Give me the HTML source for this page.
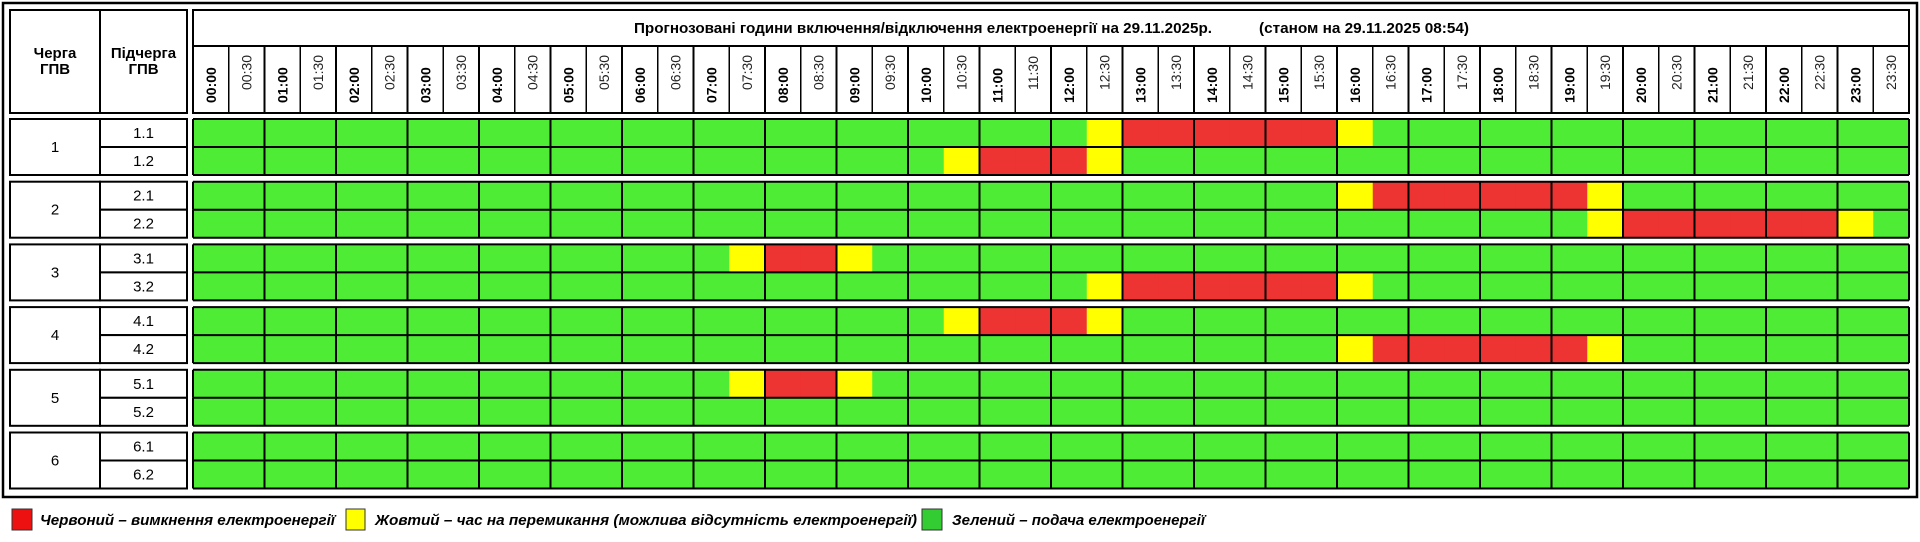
<!DOCTYPE html>
<html><head><meta charset="utf-8">
<style>
html,body{margin:0;padding:0;background:#fff;}
svg{display:block;font-family:"Liberation Sans",sans-serif;}
</style></head>
<body>
<svg id="chart" width="1920" height="542" viewBox="0 0 1920 542" xmlns="http://www.w3.org/2000/svg">
  <rect x="3" y="3" width="1914" height="494" fill="#fff" stroke="#000" stroke-width="2.5"/>
  <g id="header">
    <rect x="10" y="10" width="90" height="103" fill="#fff" stroke="#000" stroke-width="2"/>
    <rect x="100" y="10" width="87" height="103" fill="#fff" stroke="#000" stroke-width="2"/>
    <text x="55" y="58" font-size="15" font-weight="bold" text-anchor="middle">Черга</text>
    <text x="55" y="74" font-size="15" font-weight="bold" text-anchor="middle">ГПВ</text>
    <text x="143.5" y="58" font-size="15" font-weight="bold" text-anchor="middle">Підчерга</text>
    <text x="143.5" y="74" font-size="15" font-weight="bold" text-anchor="middle">ГПВ</text>
    <rect x="193" y="10" width="1716" height="103" fill="#fff" stroke="#000" stroke-width="2"/>
    <line x1="193" y1="46" x2="1909" y2="46" stroke="#000" stroke-width="2"/>
    <text x="634" y="33" font-size="15" font-weight="bold" textLength="578" lengthAdjust="spacingAndGlyphs">Прогнозовані години включення/відключення електроенергії на 29.11.2025р.</text>
    <text x="1259" y="33" font-size="15" font-weight="bold" textLength="210" lengthAdjust="spacingAndGlyphs">(станом на 29.11.2025 08:54)</text>
  </g>
  <g id="timeLabels"></g>
  <g id="groups"></g>
  <g id="legend">
    <rect x="12" y="509" width="20" height="21" fill="#ee1111" stroke="#333" stroke-width="1"/>
    <text x="40" y="525" font-size="15" font-weight="bold" font-style="italic" textLength="295" lengthAdjust="spacingAndGlyphs">Червоний – вимкнення електроенергії</text>
    <rect x="346" y="509" width="19" height="21" fill="#ffff00" stroke="#333" stroke-width="1"/>
    <text x="375" y="525" font-size="15" font-weight="bold" font-style="italic" textLength="542" lengthAdjust="spacingAndGlyphs">Жовтий – час на перемикання (можлива відсутність електроенергії)</text>
    <rect x="922" y="509" width="20" height="21" fill="#33cc33" stroke="#333" stroke-width="1"/>
    <text x="952" y="525" font-size="15" font-weight="bold" font-style="italic" textLength="253" lengthAdjust="spacingAndGlyphs">Зелений – подача електроенергії</text>
  </g>
</svg>
<script>
// ---- data ----
const queues = ["1","2","3","4","5","6"];
const subqueues = ["1.1","1.2","2.1","2.2","3.1","3.2","4.1","4.2","5.1","5.2","6.1","6.2"];
const timeSlots = ["00:00","00:30","01:00","01:30","02:00","02:30","03:00","03:30","04:00","04:30","05:00","05:30","06:00","06:30","07:00","07:30","08:00","08:30","09:00","09:30","10:00","10:30","11:00","11:30","12:00","12:30","13:00","13:30","14:00","14:30","15:00","15:30","16:00","16:30","17:00","17:30","18:00","18:30","19:00","19:30","20:00","20:30","21:00","21:30","22:00","22:30","23:00","23:30"];
// status codes per half-hour slot: g = on, y = switching, r = off
const status11 = "gggggggggggggggggggggggggyrrrrrrygggggggggggggggg";
const status12 = "gggggggggggggggggggggyrrrygggggggggggggggggggggggg";
const status21 = "ggggggggggggggggggggggggggggggggyrrrrrrygggggggggg";
const status22 = "gggggggggggggggggggggggggggggggggggggggyrrrrrrygg";
const status31 = "gggggggggggggggyrrygggggggggggggggggggggggggggggg";
const status32 = "gggggggggggggggggggggggggyrrrrrrygggggggggggggggg";
const status41 = "gggggggggggggggggggggyrrrygggggggggggggggggggggggg";
const status42 = "ggggggggggggggggggggggggggggggggyrrrrrrygggggggggg";
const status51 = "gggggggggggggggyrrygggggggggggggggggggggggggggggg";
const status52 = "gggggggggggggggggggggggggggggggggggggggggggggggg";
const status61 = "gggggggggggggggggggggggggggggggggggggggggggggggg";
const status62 = "gggggggggggggggggggggggggggggggggggggggggggggggg";
const rowStatus = [status11,status12,status21,status22,status31,status32,status41,status42,status51,status52,status61,status62];

// ---- layout / scales ----
const NS = "http://www.w3.org/2000/svg";
const X0 = 193, X1 = 1909;
const slotW = (X1 - X0) / timeSlots.length;
function xScale(i){ return X0 + i * slotW; }
const GROUP_TOP0 = 119, GROUP_PITCH = 62.7, ROW_H = 28;
function groupTop(g){ return GROUP_TOP0 + g * GROUP_PITCH; }
function rowTop(r){ return groupTop(Math.floor(r/2)) + (r%2) * ROW_H; }
const colors = { g:"#4eec34", y:"#ffff00", r:"#ee3333" };

function mk(tag, attrs, parent){
  const el = document.createElementNS(NS, tag);
  for (const k in attrs) el.setAttribute(k, attrs[k]);
  parent.appendChild(el);
  return el;
}

// time labels
const tl = document.getElementById('timeLabels');
timeSlots.forEach((t, i) => {
  const x = xScale(i);
  if (i > 0) {
    const ln = mk('line', {x1:x, y1:46, x2:x, y2:113, stroke:"#000", "stroke-width":(i%2===0?2:1.5)}, tl);
    
    
  }
  const bold = i % 2 === 0;
  const cx = x + slotW/2 + 5;
  const y = bold ? 103 : 90;
  const tx = mk('text', {x:cx, y:y, "font-size":14, "font-weight":bold?"bold":"normal", fill:bold?"#000":"#222", transform:`rotate(-90 ${cx} ${y})`}, tl);
  tx.textContent = t;
  
  
});

// groups
const gg = document.getElementById('groups');
queues.forEach((q, g) => {
  const top = groupTop(g);
  const grp = mk('g', {}, gg);
  
  
  const qb = mk('rect', {x:10, y:top, width:90, height:ROW_H*2, fill:"#fff", stroke:"#000", "stroke-width":2}, grp);
  
  
  const qt = mk('text', {x:55, y:top+ROW_H+5, "font-size":15, "text-anchor":"middle"}, grp);
  qt.textContent = q;
  
  
  for (let k = 0; k < 2; k++) {
    const r = g*2 + k;
    const y = rowTop(r);
    const sb = mk('rect', {x:100, y:y, width:87, height:ROW_H, fill:"#fff", stroke:"#000", "stroke-width":2}, grp);
    
    
    const st = mk('text', {x:143.5, y:y+19, "font-size":15, "text-anchor":"middle"}, grp);
    st.textContent = subqueues[r];
    
    
    const s = rowStatus[r];
    for (let i = 0; i < timeSlots.length; i++) {
      const c = mk('rect', {x:xScale(i), y:y, width:slotW+0.5, height:ROW_H, fill:colors[s[i]]}, grp);
      
      
    }
    for (let h = 0; h <= timeSlots.length; h += 2) {
      const ln = mk('line', {x1:xScale(h), y1:y, x2:xScale(h), y2:y+ROW_H, stroke:"#000", "stroke-width":2}, grp);
      
      
    }
    const hl = mk('line', {x1:X0, y1:y, x2:X1, y2:y, stroke:"#000", "stroke-width":2}, grp);
    
    
  }
  const bl = mk('line', {x1:X0, y1:top+ROW_H*2, x2:X1, y2:top+ROW_H*2, stroke:"#000", "stroke-width":2}, grp);
  
  
});
</script>
</body></html>
